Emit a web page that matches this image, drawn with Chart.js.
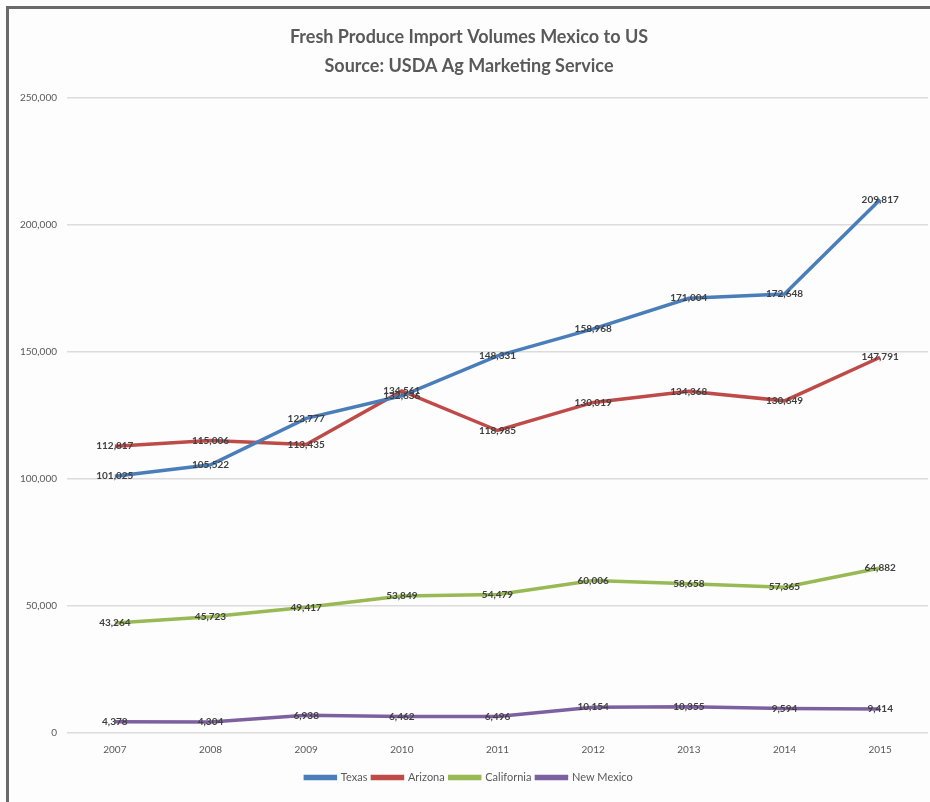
<!DOCTYPE html>
<html>
<head>
<meta charset="utf-8">
<script src="https://cdn.jsdelivr.net/npm/chart.js@4.4.0/dist/chart.umd.min.js"></script>
<style>
  html, body { margin: 0; padding: 0; background: #fdfdfd; }
  #wrap { position: relative; width: 930px; height: 802px; overflow: hidden; }
  #frame { position: absolute; left: 6px; top: 6px; width: 940px; height: 820px;
           border-top: 3px solid #6a6a6a; border-left: 3px solid #6a6a6a; box-sizing: border-box; pointer-events: none; }
  canvas { position: absolute; left: 0; top: 0; }
</style>
</head>
<body>
<div id="wrap">
  <canvas id="c" width="930" height="802"></canvas>
  <div id="frame"></div>
</div>
<script>
const years = ["2007", "2008", "2009", "2010", "2011", "2012", "2013", "2014", "2015"];
const texas = [101025, 105522, 123777, 132636, 148331, 158968, 171004, 172648, 209817];
const arizona = [112817, 115006, 113435, 134561, 118985, 130019, 134368, 130649, 147791];
const california = [43264, 45723, 49417, 53849, 54479, 60006, 58658, 57365, 64882];
const newMexico = [4378, 4304, 6938, 6462, 6496, 10154, 10355, 9594, 9414];
const yTicks = [0, 50000, 100000, 150000, 200000, 250000];

const FONT = "Lato, 'Open Sans', sans-serif";

const labelPlugin = {
  id: 'pointLabels',
  afterDatasetsDraw(chart) {
    const ctx = chart.ctx;
    ctx.save();
    ctx.font = "bold 10px " + FONT;
    ctx.fillStyle = "#404040";
    ctx.textAlign = "center";
    ctx.textBaseline = "middle";
    chart.data.datasets.forEach((ds, i) => {
      const meta = chart.getDatasetMeta(i);
      meta.data.forEach((pt, j) => {
        ctx.fillText(ds.data[j].toLocaleString('en-US'), pt.x, pt.y);
      });
    });
    ctx.restore();
  }
};

function ds(label, data, color) {
  return { label, data, borderColor: color, backgroundColor: color, borderWidth: 3.5,
           pointRadius: 0, tension: 0, fill: false };
}

new Chart(document.getElementById('c'), {
  type: 'line',
  data: {
    labels: years,
    datasets: [
      ds('Texas', texas, '#4a7ebb'),
      ds('Arizona', arizona, '#be4b48'),
      ds('California', california, '#98b954'),
      ds('New Mexico', newMexico, '#7d60a0')
    ]
  },
  options: {
    responsive: false,
    animation: false,
    layout: { padding: { left: 10, right: 2, top: 0, bottom: 9 } },
    plugins: {
      title: {
        display: true,
        text: ["Fresh Produce Import Volumes Mexico to US", "Source: USDA Ag Marketing Service"],
        color: "#595959",
        font: { family: FONT, size: 18, weight: 'bold', lineHeight: 1.65 },
        padding: { top: 22, bottom: 16 }
      },
      legend: {
        position: 'bottom',
        labels: {
          color: "#595959",
          font: { family: FONT, size: 11 },
          boxWidth: 30,
          boxHeight: 2,
          padding: 5
        }
      },
      tooltip: { enabled: false }
    },
    scales: {
      x: {
        offset: true,
        grid: { display: false, drawTicks: false },
        border: { display: false },
        ticks: { color: "#595959", font: { family: FONT, size: 10 }, padding: 11 }
      },
      y: {
        min: 0, max: 250000,
        afterFit(s) { s.width = 57; },
        afterBuildTicks(s) { s.ticks = yTicks.map(v => ({ value: v })); },
        grid: { color: "#dcdcdc", lineWidth: 1.5, drawTicks: false },
        border: { display: false },
        ticks: {
          color: "#595959", font: { family: FONT, size: 10 }, padding: 10,
          callback: v => v.toLocaleString('en-US')
        }
      }
    }
  },
  plugins: [labelPlugin]
});
</script>
</body>
</html>
